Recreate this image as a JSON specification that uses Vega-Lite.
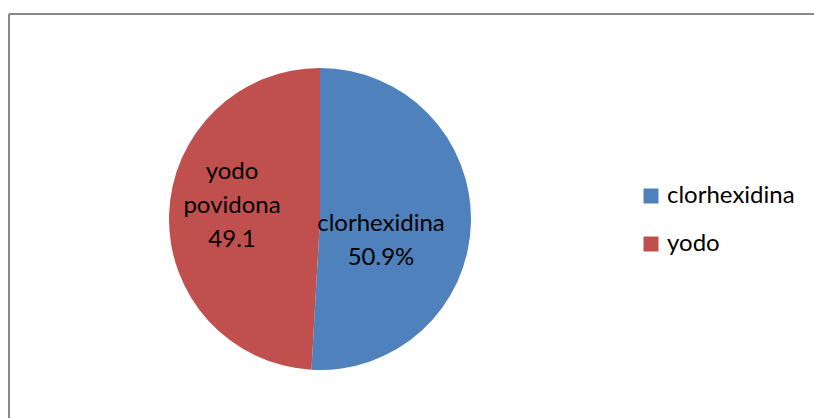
{
  "$schema": "https://vega.github.io/schema/vega-lite/v6.json",
  "width": 805,
  "height": 404,
  "autosize": {"type": "none"},
  "padding": {"left": 9, "top": 14, "right": 0, "bottom": 0},
  "background": "white",
  "view": {"stroke": null, "fill": null},
  "config": {
    "font": "Lato"
  },
  "data": {
    "values": [
      {"cat": "clorhexidina", "value": 50.9, "label": ["clorhexidina", "50.9%"]},
      {"cat": "yodo", "value": 49.1, "label": ["yodo", "povidona", "49.1"]}
    ]
  },
  "layer": [
    {
      "data": {"values": [{"edge": "left"}]},
      "mark": {"type": "rule", "color": "#878787", "strokeWidth": 2},
      "encoding": {"x": {"value": 0}}
    },
    {
      "data": {"values": [{"edge": "top"}]},
      "mark": {"type": "rule", "color": "#878787", "strokeWidth": 2},
      "encoding": {"y": {"value": 0}}
    },
    {
      "layer": [
        {"mark": {"type": "arc", "radius": 151, "x": 311, "y": 205}},
        {
          "mark": {"type": "text", "radius": 61, "x": 311, "y": 205, "dy": 3, "fontSize": 24, "lineHeight": 34, "baseline": "middle", "align": "center"},
          "encoding": {
            "text": {"condition": {"test": "datum.cat == 'clorhexidina'", "field": "label"}, "value": ""},
            "color": {"value": "#000000"}
          }
        },
        {
          "mark": {"type": "text", "radius": 88, "x": 311, "y": 205, "dy": -45, "fontSize": 24, "lineHeight": 34, "baseline": "middle", "align": "center"},
          "encoding": {
            "text": {"condition": {"test": "datum.cat == 'yodo'", "field": "label"}, "value": ""},
            "color": {"value": "#000000"}
          }
        }
      ],
      "encoding": {
        "theta": {"field": "value", "type": "quantitative", "stack": true},
        "color": {
          "field": "cat",
          "type": "nominal",
          "scale": {"domain": ["clorhexidina", "yodo"], "range": ["#4F81BD", "#C0504D"]},
          "legend": {
            "title": null,
            "orient": "none",
            "legendX": 630,
            "legendY": 170,
            "symbolType": "square",
            "symbolSize": 225,
            "symbolStrokeWidth": 0,
            "symbolOpacity": 1,
            "labelFontSize": 24,
            "labelFont": "Lato",
            "labelColor": "#000000",
            "labelOffset": 4,
            "rowPadding": 24,
            "padding": 0
          }
        }
      }
    }
  ]
}
